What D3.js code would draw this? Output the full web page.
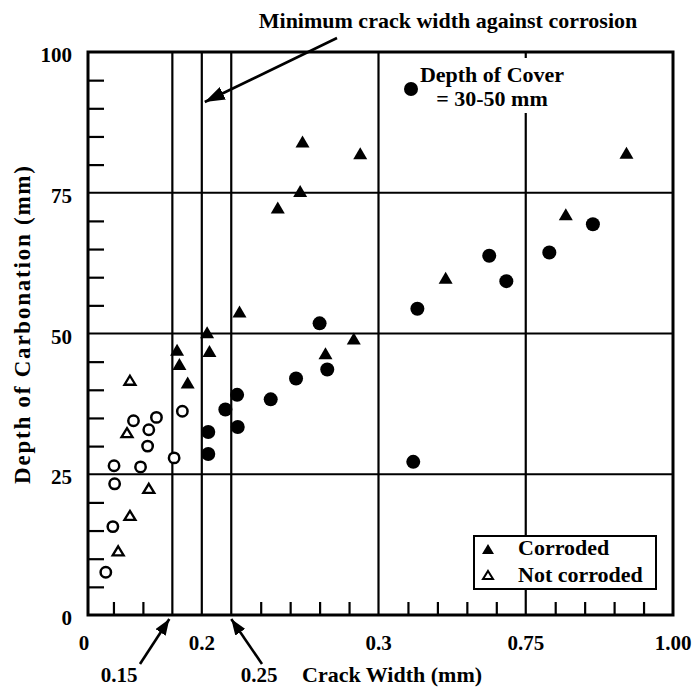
<!DOCTYPE html>
<html><head><meta charset="utf-8">
<script src="https://cdn.jsdelivr.net/npm/d3@7"></script>
<style>body{margin:0;background:#fff}</style>
</head><body>
<svg id="chart" width="697" height="687" font-family="Liberation Serif" style="font-family:'Liberation Serif'"></svg>
<script>
// ---- data (crack width mm, depth of carbonation mm) ----
const corroded = [[0.158,47.1],[0.162,44.6],[0.176,41.3],[0.209,50.2],[0.213,46.9],[0.264,53.9],[0.329,72.4],[0.367,75.3],[0.371,84.1],[0.410,46.5],[0.458,49.1],[0.469,82.0],[0.614,59.9],[0.818,71.2],[0.921,82.1]];
const notCorroded = [[0.058,11.4],[0.073,32.4],[0.078,17.7],[0.078,41.7],[0.110,22.5]];
const coverCorroded = [[0.211,32.5],[0.211,28.6],[0.240,36.5],[0.260,39.1],[0.261,33.4],[0.317,38.3],[0.360,42.0],[0.400,51.8],[0.413,43.6],[0.559,27.2],[0.566,54.4],[0.688,63.8],[0.717,59.3],[0.790,64.4],[0.864,69.4]];
const coverNotCorroded = [[0.037,7.6],[0.049,15.7],[0.051,26.5],[0.052,23.3],[0.084,34.5],[0.096,26.3],[0.108,30.0],[0.110,32.9],[0.123,35.1],[0.153,27.9],[0.167,36.2]];

const xLabelValues = [0, 0.2, 0.5, 0.75, 1.0];
const xLabels = ["0", "0.2", "0.3", "0.75", "1.00"];
const yLabelValues = [0, 25, 50, 75, 100];
const yLabels = ["0", "25", "50", "75", "100"];
const xGridValues = [0.15, 0.2, 0.25, 0.5, 0.75];
const yGridValues = [25, 50, 75];
const xMinorTicks = [0.05,0.1,0.3,0.35,0.4,0.45,0.55,0.6,0.65,0.7,0.8,0.85,0.9,0.95];
const yMinorTicks = [5,10,15,20,30,35,40,45,55,60,65,70,80,85,90,95];
const arrowLabels = [{v:0.15, t:"0.15", lx:119, tail:140, dx:-3}, {v:0.25, t:"0.25", lx:259, tail:262, dx:0}];

// ---- layout ----
const svg = d3.select("#chart");
const x = d3.scaleLinear().domain([0, 1]).range([84, 673]);
const y = d3.scaleLinear().domain([0, 100]).range([615, 52]);
const frameLeft = 88, frameRight = x(1), frameTop = y(100), frameBottom = y(0);

function label(parent, px, py, str, size, anchor) {
  return parent.append("text").attr("x", px).attr("y", py)
    .attr("text-anchor", anchor || "start")
    .attr("font-family", "Liberation Serif")
    .style("font-family", '"Liberation Serif"')
    .style("font-weight", "bold").style("font-size", size + "px")
    .attr("fill", "#000").text(str);
}

const defs = svg.append("defs");
defs.append("marker").attr("id","ahBig").attr("markerUnits","userSpaceOnUse")
  .attr("markerWidth",22).attr("markerHeight",14).attr("refX",20).attr("refY",7).attr("orient","auto")
  .append("path").attr("d","M0,0 L20,7 L0,14 Z").attr("fill","#000");
defs.append("marker").attr("id","ahSmall").attr("markerUnits","userSpaceOnUse")
  .attr("markerWidth",18).attr("markerHeight",12).attr("refX",16).attr("refY",6).attr("orient","auto")
  .append("path").attr("d","M0,0 L16,6 L0,12 Z").attr("fill","#000");

// gridlines
svg.append("g").selectAll("line").data(xGridValues).join("line")
  .attr("x1", d=>x(d)).attr("x2", d=>x(d)).attr("y1", frameTop).attr("y2", frameBottom)
  .attr("stroke","#000").attr("stroke-width",2.2);
svg.append("g").selectAll("line").data(yGridValues).join("line")
  .attr("x1", frameLeft).attr("x2", frameRight).attr("y1", d=>y(d)).attr("y2", d=>y(d))
  .attr("stroke","#000").attr("stroke-width",2.2);

// minor ticks via axes (inward)
const bx = svg.append("g").attr("transform",`translate(0,${frameBottom})`)
  .call(d3.axisBottom(x).tickValues(xMinorTicks).tickSizeInner(-13).tickSizeOuter(0).tickFormat(""));
bx.select(".domain").remove();
bx.selectAll("text").remove();
bx.selectAll("line").attr("stroke","#000").attr("stroke-width",2.2);
const ly = svg.append("g").attr("transform",`translate(${frameLeft},0)`)
  .call(d3.axisLeft(y).tickValues(yMinorTicks).tickSizeInner(-16).tickSizeOuter(0).tickFormat(""));
ly.select(".domain").remove();
ly.selectAll("text").remove();
ly.selectAll("line").attr("stroke","#000").attr("stroke-width",2.2);

// tick labels (positions from the scales)
const xl = svg.append("g");
xLabelValues.forEach((v,i)=> label(xl, x(v), frameBottom + 35, xLabels[i], 21, "middle"));
const yl = svg.append("g");
yLabelValues.forEach((v,i)=> label(yl, frameLeft - 16, y(v) + 10, yLabels[i], 21, "end"));

// annotation white backdrop (interrupts 0.75 gridline)
svg.append("rect").attr("x",415).attr("y",frameTop+6).attr("width",155).attr("height",55).attr("fill","#fff");

// frame
svg.append("rect").attr("x",frameLeft).attr("y",frameTop)
  .attr("width",frameRight-frameLeft).attr("height",frameBottom-frameTop)
  .attr("fill","none").attr("stroke","#000").attr("stroke-width",3);

// symbols
function tri(w,h){ return `M0,${-h/2} L${w/2},${h/2} L${-w/2},${h/2} Z`; }
const g = svg.append("g");
g.selectAll(".cc").data(coverCorroded).join("circle").attr("class","cc")
  .attr("cx",d=>x(d[0])).attr("cy",d=>y(d[1])).attr("r",7).attr("fill","#000");
g.selectAll(".cn").data(coverNotCorroded).join("circle").attr("class","cn")
  .attr("cx",d=>x(d[0])).attr("cy",d=>y(d[1])).attr("r",5.2)
  .attr("fill","#fff").attr("stroke","#000").attr("stroke-width",2.5);
g.selectAll(".tc").data(corroded).join("path").attr("class","tc")
  .attr("transform",d=>`translate(${x(d[0])},${y(d[1])})`).attr("d",tri(14,12)).attr("fill","#000");
g.selectAll(".tn").data(notCorroded).join("path").attr("class","tn")
  .attr("transform",d=>`translate(${x(d[0])},${y(d[1])})`).attr("d",tri(11,9))
  .attr("fill","#fff").attr("stroke","#000").attr("stroke-width",2.3);

// top annotation
label(svg, 448, 28, "Minimum crack width against corrosion", 22, "middle");
svg.append("line").attr("x1",337).attr("y1",38).attr("x2",x(0.2)+3).attr("y2",102)
  .attr("stroke","#000").attr("stroke-width",2.6).attr("marker-end","url(#ahBig)");

// depth of cover note
svg.append("circle").attr("cx",411).attr("cy",89).attr("r",7).attr("fill","#000");
label(svg, 492, 82, "Depth of Cover", 22, "middle");
label(svg, 492, 106, "= 30-50 mm", 22, "middle");

// legend
const lg = svg.append("g");
lg.append("rect").attr("x",474).attr("y",536).attr("width",182).attr("height",53)
  .attr("fill","#fff").attr("stroke","#000").attr("stroke-width",2);
lg.append("path").attr("transform","translate(488,549)").attr("d",tri(12,10)).attr("fill","#000");
lg.append("path").attr("transform","translate(488,575)").attr("d",tri(10,8))
  .attr("fill","#fff").attr("stroke","#000").attr("stroke-width",2);
label(lg, 518, 555, "Corroded", 22);
label(lg, 518, 582, "Not corroded", 22);

// bottom arrows & labels
arrowLabels.forEach(a=>{
  svg.append("line").attr("x1",a.tail).attr("y1",664).attr("x2",x(a.v)+a.dx).attr("y2",619)
    .attr("stroke","#000").attr("stroke-width",2.6).attr("marker-end","url(#ahSmall)");
  label(svg, a.lx, 682, a.t, 21, "middle");
});

// axis titles
label(svg, 302, 682, "Crack Width (mm)", 22);
label(svg, 0, 0, "Depth of Carbonation (mm)", 23, "middle")
  .attr("transform","translate(30,325) rotate(-90)")
  .attr("textLength",318).attr("lengthAdjust","spacing");
</script>
</body></html>
